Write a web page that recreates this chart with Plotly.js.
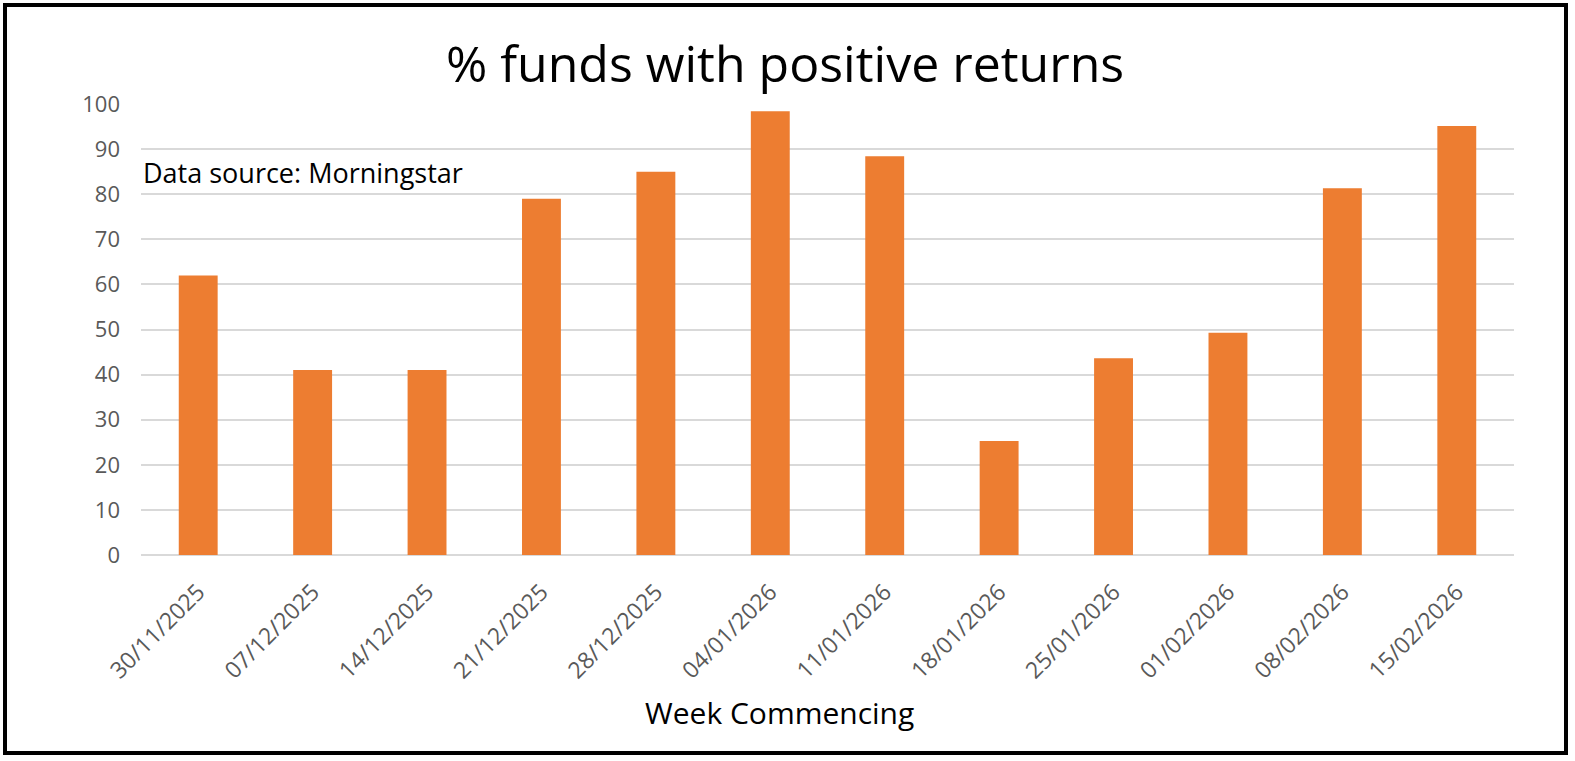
<!DOCTYPE html>
<html>
<head>
<meta charset="utf-8">
<script src="https://cdn.plot.ly/plotly-3.0.1.min.js"></script>
<style>
  html, body { margin: 0; padding: 0; background: #fff; }
  #wrap { position: relative; width: 1575px; height: 761px; }
  #chart { width: 1575px; height: 761px; }
  #frame { position: absolute; left: 3px; top: 3px; width: 1557px; height: 744px; border: 4px solid #000; pointer-events: none; }
</style>
</head>
<body>
<div id="wrap">
  <div id="chart"></div>
  <div id="frame"></div>
</div>
<script>
const weeks = ["30/11/2025", "07/12/2025", "14/12/2025", "21/12/2025", "28/12/2025", "04/01/2026",
               "11/01/2026", "18/01/2026", "25/01/2026", "01/02/2026", "08/02/2026", "15/02/2026"];
const pctPositive = [62, 41, 41, 79, 85, 98.4, 88.4, 25.3, 43.6, 49.3, 81.3, 95.1];
const yTicks = [0, 10, 20, 30, 40, 50, 60, 70, 80, 90, 100];

const FONT = "'Open Sans', sans-serif";
const L = 141, R = 61, T = 104, B = 206;
const W = 1575, H = 761;
const pw = W - L - R;

const trace = {
  type: "bar",
  x: weeks,
  y: pctPositive,
  marker: { color: "#ED7D31" },
  hoverinfo: "x+y"
};

const layout = {
  width: W, height: H,
  margin: { l: L, r: R, t: T, b: B, pad: 0 },
  paper_bgcolor: "#ffffff",
  plot_bgcolor: "#ffffff",
  showlegend: false,
  bargap: 0.66,
  title: {
    text: "% funds with positive returns",
    font: { family: FONT, size: 50, color: "#000000" },
    x: 785 / W, xref: "container", xanchor: "center",
    y: 1 - 64 / H, yref: "container", yanchor: "middle"
  },
  xaxis: {
    type: "category",
    tickangle: -45,
    tickfont: { family: FONT, size: 23, color: "#595959" },
    showgrid: false,
    showline: false,
    zeroline: false,
    ticks: "",
    ticklabelstandoff: 18
  },
  yaxis: {
    range: [0, 100],
    tickvals: yTicks,
    ticktext: yTicks.map(String),
    tickfont: { family: FONT, size: 22, color: "#595959" },
    showgrid: true,
    gridcolor: "#d9d9d9",
    gridwidth: 2,
    zeroline: true,
    zerolinecolor: "#d9d9d9",
    zerolinewidth: 2,
    showline: false,
    ticks: "",
    ticklabelstandoff: 20,
    fixedrange: true
  },
  annotations: [
    {
      text: "Data source: Morningstar",
      xref: "paper", yref: "paper",
      x: 0, y: (H - B - 172) / (H - T - B),
      xanchor: "left", yanchor: "middle",
      showarrow: false,
      font: { family: FONT, size: 27, color: "#000000" }
    },
    {
      text: "Week Commencing",
      xref: "paper", yref: "paper",
      x: (779 - L) / pw, y: (H - B - 712) / (H - T - B),
      xanchor: "center", yanchor: "middle",
      showarrow: false,
      font: { family: FONT, size: 30, color: "#000000" }
    }
  ]
};

Plotly.newPlot("chart", [trace], layout, { displayModeBar: false, staticPlot: true });
</script>
</body>
</html>
